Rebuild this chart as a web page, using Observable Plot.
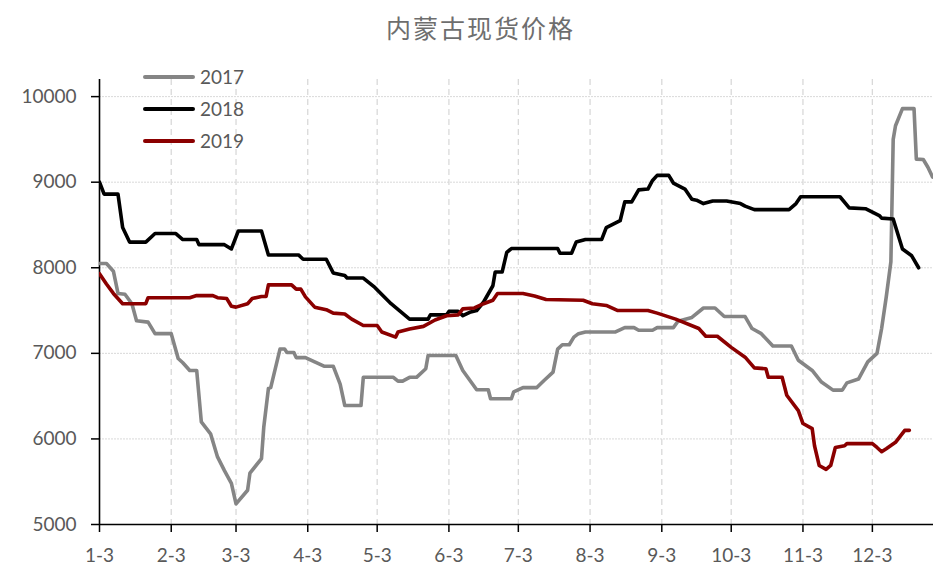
<!DOCTYPE html>
<html>
<head>
<meta charset="utf-8">
<script src="https://cdn.jsdelivr.net/npm/d3@7"></script>
<script src="https://cdn.jsdelivr.net/npm/@observablehq/plot@0.6"></script>
<style>
  html, body { margin: 0; padding: 0; background: #fff; }
  #wrap { position: relative; width: 933px; height: 566px; overflow: hidden; }
  #title { position: absolute; left: 386px; top: 15px; font-family: "Noto Sans CJK SC", sans-serif; font-size: 25px; line-height: 25px; letter-spacing: 2px; color: #6e6e6e; white-space: nowrap; }
  #legend { position: absolute; left: 143px; top: 65px; font-family: Lato, sans-serif; font-size: 19px; color: #595959; }
  .row { position: relative; height: 32px; }
  .sw { position: absolute; left: 0; top: 10px; width: 52px; height: 4px; border-radius: 2px; }
  .lb { position: absolute; left: 57px; top: 0px; line-height: 24px; }
  #chart { position: absolute; left: 0; top: 0; }
</style>
</head>
<body>
<div id="wrap">
  <div id="chart"></div>
  <div id="title">内蒙古现货价格</div>
  <div id="legend"></div>
</div>
<script>
const seriesNames = ["2017", "2018", "2019"];
const seriesColors = ["#858585", "#000000", "#8b0000"];

const dates2017 = ["1-3","1-6","1-9","1-11","1-14","1-17","1-19","1-24","1-27","2-3","2-6","2-8","2-11","2-14","2-16","2-20","2-23","2-26","3-1","3-3","3-8","3-9","3-14","3-15","3-17","3-18","3-22","3-24","3-25","3-28","3-29","4-2","4-6","4-10","4-14","4-17","4-19","4-26","4-27","5-10","5-12","5-14","5-17","5-20","5-24","5-25","6-6","6-9","6-15","6-20","6-21","6-30","7-1","7-5","7-11","7-14","7-18","7-20","7-22","7-25","7-27","7-29","8-1","8-14","8-18","8-22","8-24","8-30","9-1","9-8","9-10","9-16","9-21","9-26","9-30","10-9","10-12","10-16","10-21","10-29","11-1","11-7","11-11","11-16","11-20","11-22","11-27","12-1","12-5","12-7","12-9","12-11","12-12","12-13","12-16","12-21","12-22","12-25","12-27","12-29"];
const values2017 = [8050,8050,7960,7700,7690,7580,7380,7365,7230,7230,6940,6890,6800,6800,6200,6060,5790,5630,5480,5240,5400,5600,5770,6140,6590,6600,7050,7050,7010,7010,6950,6950,6900,6850,6850,6640,6390,6390,6720,6720,6675,6675,6720,6720,6820,6975,6975,6800,6575,6575,6470,6470,6550,6600,6600,6680,6780,7050,7100,7100,7190,7230,7250,7250,7300,7300,7270,7270,7300,7300,7375,7420,7530,7530,7430,7430,7290,7230,7085,7085,6920,6800,6665,6570,6570,6655,6700,6900,7000,7290,7660,8070,9500,9660,9860,9860,9270,9265,9175,9060];

const dates2018 = ["1-3","1-5","1-11","1-13","1-16","1-23","1-27","2-5","2-8","2-14","2-15","2-26","3-1","3-4","3-14","3-17","3-30","4-1","4-11","4-14","4-19","4-20","4-27","5-2","5-9","5-17","5-25","5-26","6-2","6-3","6-7","6-9","6-12","6-15","6-18","6-22","6-23","6-26","6-28","6-30","7-20","7-21","7-26","7-28","8-1","8-8","8-10","8-13","8-16","8-18","8-21","8-24","8-28","8-30","9-1","9-6","9-8","9-13","9-16","9-18","9-21","9-25","10-1","10-7","10-9","10-13","10-28","10-31","11-2","11-19","11-23","11-30","12-6","12-7","12-12","12-16","12-20","12-23"];
const values2018 = [9000,8860,8860,8470,8300,8300,8400,8400,8330,8330,8270,8270,8220,8430,8430,8150,8150,8100,8100,7940,7910,7880,7880,7770,7580,7400,7400,7450,7450,7490,7490,7440,7480,7500,7600,7790,7950,7950,8180,8225,8225,8170,8170,8300,8330,8330,8470,8510,8550,8770,8770,8910,8920,9020,9080,9080,8990,8920,8800,8790,8750,8780,8780,8750,8720,8680,8680,8750,8830,8830,8700,8690,8610,8580,8570,8220,8140,8000];

const dates2019 = ["1-3","1-6","1-9","1-13","1-23","1-24","2-11","2-14","2-21","2-23","2-27","3-1","3-3","3-8","3-10","3-14","3-16","3-17","3-27","3-29","3-31","4-2","4-6","4-11","4-14","4-19","4-22","4-27","5-3","5-5","5-11","5-12","5-17","5-23","5-28","6-2","6-7","6-9","6-14","6-18","6-22","6-24","7-5","7-10","7-15","7-31","8-4","8-10","8-15","8-28","9-1","9-9","9-19","9-22","9-27","10-3","10-9","10-13","10-18","10-19","10-25","10-27","11-1","11-3","11-7","11-8","11-10","11-13","11-15","11-17","11-21","11-22","12-3","12-5","12-7","12-9","12-13","12-17","12-19"];
const values2019 = [7930,7810,7700,7580,7580,7650,7650,7675,7675,7650,7640,7550,7540,7580,7640,7665,7665,7800,7800,7750,7750,7660,7540,7510,7470,7460,7400,7325,7325,7250,7190,7250,7285,7315,7390,7440,7450,7520,7530,7580,7620,7700,7700,7670,7630,7620,7580,7560,7500,7500,7470,7400,7290,7200,7200,7070,6955,6830,6820,6720,6720,6510,6330,6180,6120,5920,5690,5645,5690,5900,5920,5945,5945,5900,5850,5885,5960,6100,6100];

const xTickLabels = ["1-3","2-3","3-3","4-3","5-3","6-3","7-3","8-3","9-3","10-3","11-3","12-3"];
const yTicks = [5000, 6000, 7000, 8000, 9000, 10000];
const yDomain = [5000, 10200];
const xStart = "1-3";
const xEnd = "12-29";

const parseMD = (s, hours = 0) => {
  const [m, d] = s.split("-").map(Number);
  return new Date(Date.UTC(2001, m - 1, d, hours));
};

const allDates = [dates2017, dates2018, dates2019];
const allValues = [values2017, values2018, values2019];
const data = [];
seriesNames.forEach((name, i) => {
  allDates[i].forEach((d, j) => data.push({series: name, date: parseMD(d), value: allValues[i][j]}));
});

const xTicks = xTickLabels.map(s => parseMD(s));
const labelOf = new Map(xTicks.map((t, i) => [+t, xTickLabels[i]]));
const x0 = parseMD(xStart);

const chart = Plot.plot({
  width: 933,
  height: 566,
  marginTop: 79,
  marginBottom: 42,
  marginLeft: 99,
  marginRight: 0,
  style: {fontFamily: "Lato, sans-serif", fontSize: "19px", color: "#595959", background: "transparent"},
  x: {type: "utc", domain: [x0, parseMD(xEnd, 10)]},
  y: {domain: yDomain},
  color: {domain: seriesNames, range: seriesColors},
  marks: [
    Plot.gridY(yTicks.slice(1), {stroke: "#d9d9d9", strokeOpacity: 1, strokeWidth: 1, strokeDasharray: "2,1"}),
    Plot.gridX(xTicks.slice(1), {stroke: "#d9d9d9", strokeOpacity: 1, strokeWidth: 1.3, strokeDasharray: "6,4"}),
    Plot.axisY(yTicks, {tickSize: 8, tickPadding: 15, stroke: "#000", fill: "#595959", strokeWidth: 1.5, label: null, fontSize: 19, tickFormat: d => String(d)}),
    Plot.axisX(xTicks, {tickSize: 8, tickPadding: 16, stroke: "#000", fill: "#595959", strokeWidth: 1.5, label: null, fontSize: 19, tickFormat: d => labelOf.get(+d)}),
    Plot.ruleX([x0], {stroke: "#000", strokeWidth: 1.6}),
    Plot.ruleY([yDomain[0]], {stroke: "#000", strokeWidth: 1.6}),
    Plot.line(data, {x: "date", y: "value", z: "series", stroke: "series", strokeWidth: 3.6, strokeLinejoin: "round", strokeLinecap: "round", clip: true})
  ]
});
document.getElementById("chart").appendChild(chart);

const legend = document.getElementById("legend");
seriesNames.forEach((name, i) => {
  const row = document.createElement("div");
  row.className = "row";
  const sw = document.createElement("div");
  sw.className = "sw";
  sw.style.background = seriesColors[i];
  const lb = document.createElement("div");
  lb.className = "lb";
  lb.textContent = name;
  row.appendChild(sw);
  row.appendChild(lb);
  legend.appendChild(row);
});
</script>
</body>
</html>
